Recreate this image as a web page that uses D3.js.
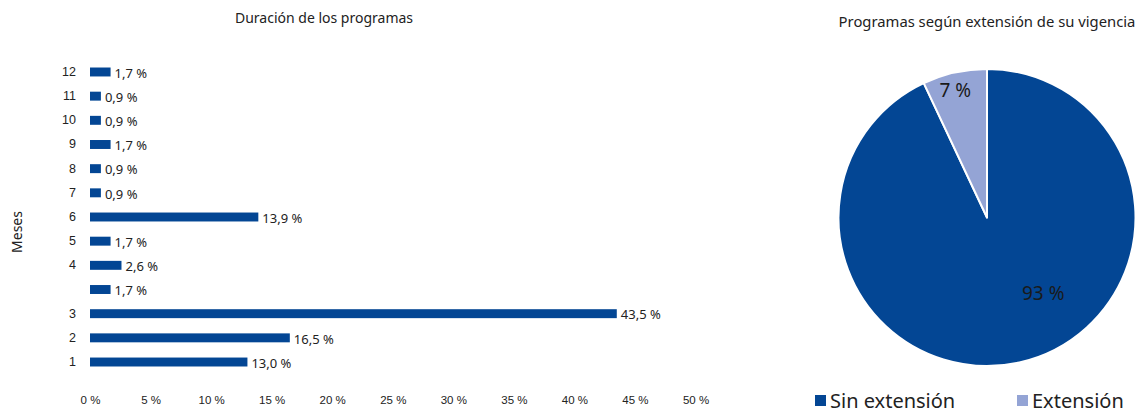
<!DOCTYPE html>
<html>
<head>
<meta charset="utf-8">
<script src="https://cdn.jsdelivr.net/npm/d3@7"></script>
<style>
  html, body { margin: 0; padding: 0; background: #fff; }
  svg { display: block; font-family: "Noto Sans", "Open Sans", sans-serif; }
</style>
</head>
<body>
<svg id="chart" width="1143" height="413"></svg>
<script>
// Duración de los programas (bottom to top)
const durationLabels = ["1", "2", "3", "", "4", "5", "6", "7", "8", "9", "10", "11", "12"];
const durationShares = [13.0, 16.5, 43.5, 1.7, 2.6, 1.7, 13.9, 0.9, 0.9, 1.7, 0.9, 0.9, 1.7];
const xTickValues = [0, 5, 10, 15, 20, 25, 30, 35, 40, 45, 50];

// Programas según extensión de su vigencia
const extensionCategories = ["Sin extensión", "Extensión"];
const extensionShares = [93, 7];

const DARK = "#034694";
const LIGHT = "#94a4d5";
const TEXT = "#222";

const svg = d3.select("#chart");
const fmt = v => d3.format(".1f")(v).replace(".", ",") + " %";

// ---------- Bar chart ----------
const x = d3.scaleLinear().domain([0, 50]).range([90, 695.5]);
const rowIds = d3.range(durationLabels.length);
const y = d3.scaleBand()
  .domain(rowIds.slice().reverse())
  .range([59.9, 374.1])
  .paddingInner(0.63)
  .paddingOuter(0.315);

svg.append("text")
  .attr("x", 324).attr("y", 23)
  .attr("text-anchor", "middle")
  .attr("font-size", 14)
  .attr("fill", TEXT)
  .text("Duración de los programas");

svg.append("g")
  .selectAll("rect")
  .data(rowIds)
  .join("rect")
  .attr("x", x(0))
  .attr("y", i => y(i))
  .attr("width", i => x(durationShares[i]) - x(0))
  .attr("height", y.bandwidth())
  .attr("fill", DARK);

svg.append("g")
  .selectAll("text")
  .data(rowIds)
  .join("text")
  .attr("x", i => x(durationShares[i]) + 4)
  .attr("y", i => y(i) + y.bandwidth() / 2 + 1)
  .attr("dy", "0.36em")
  .attr("font-size", 13)
  .attr("fill", TEXT)
  .text(i => fmt(durationShares[i]));

const yAxis = svg.append("g")
  .attr("transform", `translate(${x(0)},0)`)
  .call(d3.axisLeft(y).tickSize(0).tickPadding(14).tickFormat(i => durationLabels[i]));
yAxis.select(".domain").remove();
yAxis.selectAll("text").attr("font-size", 12.5).attr("fill", TEXT).attr("font-family", null);

const xAxis = svg.append("g")
  .attr("transform", "translate(0,390)")
  .call(d3.axisBottom(x).tickValues(xTickValues).tickSize(0).tickPadding(6).tickFormat(d => d + " %"));
xAxis.select(".domain").remove();
xAxis.selectAll("text").attr("font-size", 11.5).attr("fill", TEXT).attr("font-family", null);

svg.append("text")
  .attr("transform", "translate(22,232) rotate(-90)")
  .attr("text-anchor", "middle")
  .attr("font-size", 14)
  .attr("fill", TEXT)
  .text("Meses");

// ---------- Pie chart ----------
const cx = 987, cy = 217.5, radius = 148.5;

svg.append("text")
  .attr("x", cx).attr("y", 27)
  .attr("text-anchor", "middle")
  .attr("font-size", 14.8)
  .attr("fill", TEXT)
  .text("Programas según extensión de su vigencia");

const pieColor = d3.scaleOrdinal().domain(extensionCategories).range([DARK, LIGHT]);
const pie = d3.pie().sort(null).value(d => d.v);
const slices = pie(extensionCategories.map((c, i) => ({ c, v: extensionShares[i] })));
const arc = d3.arc().innerRadius(0).outerRadius(radius);

const pieG = svg.append("g").attr("transform", `translate(${cx},${cy})`);
pieG.selectAll("path")
  .data(slices)
  .join("path")
  .attr("d", arc)
  .attr("fill", d => pieColor(d.data.c))
  .attr("stroke", "#fff")
  .attr("stroke-width", 2)
  .attr("stroke-linejoin", "round");

// label placement: radius fraction and optional angle (degrees, clockwise from top)
const labelPlacement = { "Sin extensión": { r: 0.635, a: 143.4 }, "Extensión": { r: 0.885, a: -14 } };
pieG.selectAll("text")
  .data(slices)
  .join("text")
  .each(function (d) {
    const p = labelPlacement[d.data.c];
    const ang = p.a == null ? (d.startAngle + d.endAngle) / 2 : p.a * Math.PI / 180;
    d3.select(this)
      .attr("x", Math.sin(ang) * radius * p.r)
      .attr("y", -Math.cos(ang) * radius * p.r);
  })
  .attr("text-anchor", "middle")
  .attr("dy", "0.36em")
  .attr("font-size", 19)
  .attr("fill", "#1a1a1a")
  .text(d => d.data.v + " %");

// legend
const legendX = [815, 1017];
const legend = svg.append("g")
  .selectAll("g")
  .data(extensionCategories)
  .join("g")
  .attr("transform", (d, i) => `translate(${legendX[i]},395)`);
legend.append("rect")
  .attr("width", 11).attr("height", 11)
  .attr("fill", d => pieColor(d));
legend.append("text")
  .attr("x", 15).attr("y", 5.5)
  .attr("dy", "0.36em")
  .attr("font-size", 20)
  .attr("fill", TEXT)
  .text(d => d);
</script>
</body>
</html>
